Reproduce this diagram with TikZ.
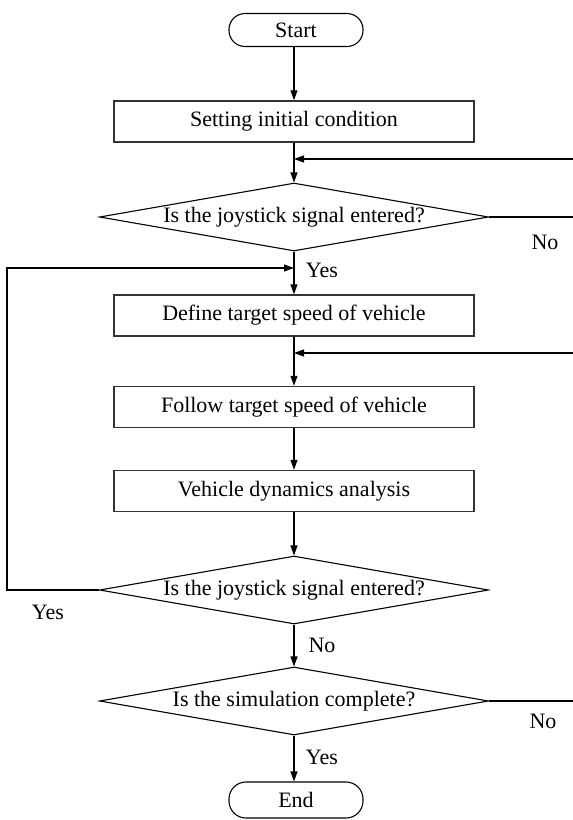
\documentclass[tikz,border=0pt]{standalone}
\usepackage{fontspec}
\setmainfont{Liberation Serif}
\usetikzlibrary{shapes.geometric,arrows.meta}
\begin{document}
\begin{tikzpicture}[x=1pt,y=-1pt,
  every node/.style={font=\fontsize{22}{26}\selectfont},
  procbox/.style={draw,line width=1.5pt,draw=black!80,minimum width=360pt,minimum height=41pt,inner sep=0pt},
  term/.style={draw,line width=1.1pt,rounded corners=16pt,minimum width=134pt,minimum height=33pt,inner sep=0pt},
  decision/.style={draw,diamond,line width=1.1pt,minimum width=389pt,minimum height=68pt,inner sep=0pt,aspect=5.7},
  flow/.style={line width=1.1pt,-{Triangle[length=10pt,width=7pt]}},
  plain/.style={line width=1.1pt},
  lbl/.style={inner sep=0pt}]
\useasboundingbox (0,0) rectangle (573,820);
\node[term] (start) at (296,30) {Start};
\node[procbox] (init) at (294,121.5) {Setting initial condition};
\node[decision] (d1) at (294,217) {Is the joystick signal entered?};
\node[procbox] (def) at (294,315.5) {Define target speed of vehicle};
\node[procbox] (fol) at (294,407) {Follow target speed of vehicle};
\node[procbox] (veh) at (294,491) {Vehicle dynamics analysis};
\node[decision] (d2) at (294,590) {Is the joystick signal entered?};
\node[decision] (d3) at (294,701) {Is the simulation complete?};
\node[term,minimum height=36pt,rounded corners=17pt] (end) at (296,800) {End};

\coordinate (r1) at (573,159);
\coordinate (r2) at (573,353);
\coordinate (e1) at (573,217);
\coordinate (e3) at (573,701);
\coordinate (lp) at (7,590);
\coordinate (j1) at (294,268);

\draw[flow] (start.south -| init) -- (init.north);
\draw[flow] (init) -- (d1.north);
\draw[flow] (r1) -- (r1 -| init);
\draw[plain] (d1.east) -- (e1);
\draw[flow] (d1.south) -- (def.north);
\draw[flow] (d2.west) -- (lp) |- (j1);
\draw[flow] (def) -- (fol.north);
\draw[flow] (r2) -- (r2 -| def);
\draw[flow] (fol) -- (veh.north);
\draw[flow] (veh) -- (d2.north);
\draw[flow] (d2.south) -- (d3.north);
\draw[plain] (d3.east) -- (e3);
\draw[flow] (d3.south) -- (end.north -| d3);

\node[lbl] (no1) at (545,242) {No};
\node[lbl] (yes1) at (322,270) {Yes};
\node[lbl] (yes2) at (48,612) {Yes};
\node[lbl] (no2) at (322,645) {No};
\node[lbl] (no3) at (543,721) {No};
\node[lbl] (yes3) at (322,757) {Yes};
\end{tikzpicture}
\end{document}
